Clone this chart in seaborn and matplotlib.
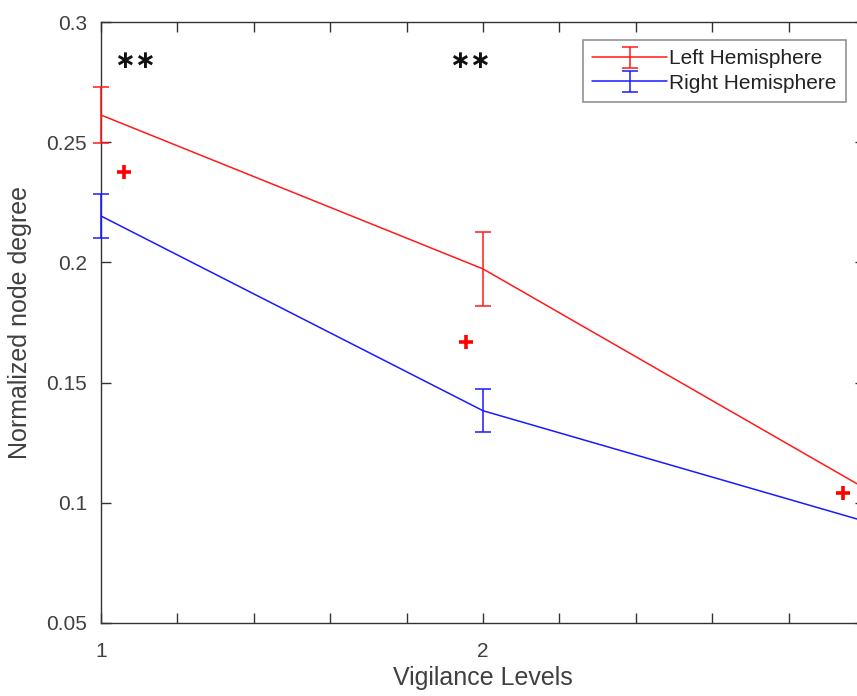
import matplotlib
matplotlib.use("Agg")
import matplotlib.pyplot as plt
import seaborn as sns
import numpy as np
import pandas as pd

# ---- data ----
levels = [1, 2, 3]
left_mean = [0.2613, 0.1973, 0.106]
left_err = [0.0115, 0.0155, 0.010]
right_mean = [0.2193, 0.1383, 0.0923]
right_err = [0.0092, 0.0090, 0.008]
plus_x = [1.06, 1.955, 2.942]
plus_y = [0.2377, 0.167, 0.1042]
star_x = [1.089, 1.966]
star_y = [0.2838, 0.2838]
star_text = ["\u2217\u2217", "\u2217\u2217"]
series_names = ["Left Hemisphere", "Right Hemisphere"]
xtick_vals = [1, 2, 3]
xtick_labels = ["1", "2", ""]
ytick_vals = [0.05, 0.1, 0.15, 0.2, 0.25, 0.3]
ytick_labels = ["0.05", "0.1", "0.15", "0.2", "0.25", "0.3"]

sns.set_style("white")
plt.rcParams["font.family"] = ["Liberation Sans", "DejaVu Sans"]

fig = plt.figure(figsize=(8.57, 6.96), dpi=100)
ax = fig.add_axes([101 / 857, 1 - 623 / 696, 764 / 857, 601 / 696])

red = "#ff1a1a"
blue = "#1a1aff"

for means, errs, col, name in [(left_mean, left_err, red, series_names[0]),
                               (right_mean, right_err, blue, series_names[1])]:
    cont = ax.errorbar(levels, means, yerr=errs, fmt="-", color=col, lw=1.1,
                       elinewidth=1.1, capsize=6, capthick=1.1, label=name,
                       zorder=3)
    for art in list(cont[1]) + list(cont[2]):
        art.set_clip_on(False)

df_plus = pd.DataFrame({"x": plus_x, "y": plus_y})
sns.scatterplot(data=df_plus, x="x", y="y", marker="+", s=110, color="red",
                linewidth=2.6, ax=ax, legend=False, zorder=5)

for sx, sy, st in zip(star_x, star_y, star_text):
    ax.text(sx, sy, st, ha="center", va="center", fontsize=18,
            color="#111111", family="DejaVu Sans", fontweight="bold")

ax.set_xlim(1, 3)
ax.set_ylim(0.05, 0.3)
ax.set_xticks(xtick_vals)
ax.set_xticklabels(xtick_labels)
ax.set_xticks(np.arange(1, 3.01, 0.2), minor=True)
ax.set_yticks(ytick_vals)
ax.set_yticklabels(ytick_labels)

ax.tick_params(axis="both", which="both", direction="in", length=7, width=1,
               colors="#333333", labelcolor="#404040", labelsize=15,
               top=True, right=True, bottom=True, left=True)
ax.tick_params(axis="x", which="major", pad=14)
ax.tick_params(axis="y", which="major", pad=10)

for sp in ax.spines.values():
    sp.set_color("#333333")
    sp.set_linewidth(1.0)

ax.set_xlabel("Vigilance Levels", fontsize=18, color="#404040", labelpad=3)
ax.set_ylabel("Normalized node degree", fontsize=18, color="#404040", labelpad=10)

leg = ax.legend(loc="upper right", bbox_to_anchor=(0.975, 0.970),
                borderaxespad=0, fontsize=15, frameon=True, fancybox=False,
                handlelength=3.6, handletextpad=0.1, borderpad=0.45,
                labelspacing=0.25)
leg.get_frame().set_edgecolor("#777777")
leg.get_frame().set_linewidth(1.2)
for t in leg.get_texts():
    t.set_color("#222222")

fig.savefig("out.png", dpi=100)
